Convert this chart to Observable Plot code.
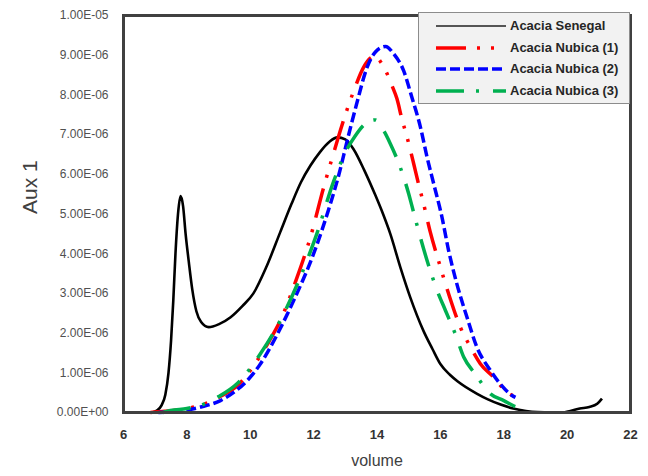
<!DOCTYPE html>
<html>
<head>
<meta charset="utf-8">
<script src="https://cdn.jsdelivr.net/npm/d3@7"></script>
<script src="https://cdn.jsdelivr.net/npm/@observablehq/plot@0.6"></script>
<style>
  html, body { margin: 0; padding: 0; background: #fff; }
  #wrap { position: relative; width: 648px; height: 476px; font-family: "Liberation Sans", Arial, sans-serif; }
  #legend { position: absolute; left: 418px; top: 12px; width: 212px; height: 92px;
            background: #f2f2f2; border: 1px solid #8c8c8c; box-sizing: border-box; }
  .row { position: absolute; left: 0; height: 20px; width: 212px; }
  .row svg { position: absolute; left: 16px; top: 0; }
  .row span { position: absolute; left: 91px; top: 2px; font-size: 13px; font-weight: bold; color: #262626; white-space: nowrap; }
</style>
</head>
<body>
<div id="wrap"></div>
<script>
// ---- data (y values in units of 1e-6) ----
const seriesNames = ["Acacia Senegal", "Acacia Nubica (1)", "Acacia Nubica (2)", "Acacia Nubica (3)"];

const senegal = [[6.9,0],[7.05,0.05],[7.2,0.18],[7.32,0.45],[7.42,1.0],[7.5,1.8],[7.57,2.8],[7.64,4.0],[7.72,5.0],[7.8,5.45],[7.88,5.2],[7.96,4.5],[8.06,3.8],[8.17,3.1],[8.3,2.55],[8.45,2.28],[8.69,2.15],[9.0,2.22],[9.38,2.4],[9.75,2.68],[10.1,3.0],[10.5,3.65],[10.95,4.55],[11.3,5.25],[11.6,5.8],[11.9,6.22],[12.2,6.56],[12.5,6.82],[12.75,6.93],[13.0,6.88],[13.27,6.62],[13.6,6.1],[13.95,5.47],[14.2,4.98],[14.42,4.5],[14.74,3.65],[15.05,2.9],[15.47,2.05],[15.75,1.6],[16.0,1.22],[16.3,0.95],[16.55,0.78],[17.16,0.47],[17.5,0.33],[17.9,0.2],[18.3,0.1],[18.7,0.04],[19.06,0.01],[19.5,0],[19.85,0],[20.1,0.04],[20.4,0.1],[20.7,0.14],[20.95,0.22],[21.1,0.35]];

const nubica1 = [[6.85,0],[7.3,0.03],[8.0,0.1],[8.5,0.2],[9.0,0.38],[9.6,0.68],[10.22,1.31],[10.6,1.8],[10.95,2.32],[11.48,3.41],[11.9,4.42],[12.32,5.68],[12.6,6.45],[12.9,7.25],[13.27,8.11],[13.58,8.7],[13.8,8.93],[13.95,8.98],[14.1,8.85],[14.32,8.53],[14.47,8.24],[14.63,7.9],[14.79,7.38],[14.95,6.93],[15.16,6.26],[15.31,5.76],[15.47,5.26],[15.68,4.55],[15.95,3.8],[16.26,2.99],[16.63,2.15],[16.95,1.65],[17.26,1.23],[17.68,0.89],[18.1,0.51],[18.37,0.4]];

const nubica2 = [[7.1,0],[7.5,0.02],[8.0,0.06],[8.5,0.15],[9.06,0.3],[9.5,0.52],[9.9,0.8],[10.3,1.2],[10.64,1.65],[11.0,2.2],[11.37,2.82],[12.0,4.0],[12.53,5.26],[12.8,6.0],[13.06,6.85],[13.35,7.75],[13.69,8.7],[13.95,9.08],[14.27,9.22],[14.53,9.03],[14.84,8.61],[15.1,7.94],[15.37,7.19],[15.58,6.43],[15.79,5.76],[16.05,4.92],[16.26,4.08],[16.52,3.24],[16.84,2.4],[17.15,1.65],[17.58,1.06],[17.89,0.72],[18.26,0.43],[18.37,0.38]];

const nubica3 = [[7.25,0],[7.48,0.05],[8.0,0.1],[8.5,0.2],[9.0,0.4],[9.59,0.73],[10.32,1.48],[10.95,2.32],[11.58,3.41],[12.1,4.5],[12.64,5.84],[13.0,6.55],[13.3,6.95],[13.6,7.25],[13.95,7.37],[14.21,7.1],[14.42,6.77],[14.63,6.39],[14.84,5.93],[15.0,5.51],[15.1,5.21],[15.31,4.58],[15.58,3.83],[15.9,3.07],[16.16,2.57],[16.47,1.98],[16.74,1.39],[17.1,0.97],[17.58,0.47],[18.0,0.3],[18.42,0.13],[18.6,0.08]];

const xTicks = [6, 8, 10, 12, 14, 16, 18, 20, 22];
const yTicksMicro = [0, 1, 2, 3, 4, 5, 6, 7, 8, 9, 10];
const xLabel = "volume";
const yLabel = "Aux 1";

// ---- styles ----
const styles = [
  {color: "#000000", width: 2.6, dash: null},
  {color: "#ff0000", width: 3.5, dash: "30,11,3,11,3,12"},
  {color: "#0000ff", width: 3.5, dash: "10,4"},
  {color: "#00b050", width: 3.5, dash: "28,12,3,14"}
];

const toRows = (arr, name) => arr.map(([x, v]) => ({x, y: v * 1e-6, name}));
const allSeries = [senegal, nubica1, nubica2, nubica3];

const fmt = v => {
  if (v === 0) return "0.00E+00";
  const e = Math.floor(Math.log10(v) + 1e-9);
  const m = v / Math.pow(10, e);
  return m.toFixed(2) + "E-" + String(-e).padStart(2, "0");
};

const lineMarks = allSeries.map((s, i) => Plot.line(toRows(s, seriesNames[i]), {
  x: "x", y: "y", stroke: styles[i].color, strokeWidth: styles[i].width,
  strokeDasharray: styles[i].dash || undefined, curve: "monotone-x",
  strokeLinecap: "butt", strokeLinejoin: "round"
}));

const chart = Plot.plot({
  width: 648, height: 476,
  marginLeft: 123, marginRight: 18, marginTop: 15, marginBottom: 64,
  style: {fontFamily: "'Liberation Sans', Arial, sans-serif", background: "#fff"},
  x: {domain: [6, 22]},
  y: {domain: [0, 1e-5]},
  marks: [
    ...lineMarks,
    Plot.frame({stroke: "#404040", strokeWidth: 3}),
    Plot.axisX({ticks: xTicks, tickSize: 0, tickPadding: 17, fontSize: 13, fontWeight: "bold", fill: "#333", label: null}),
    Plot.axisY({ticks: yTicksMicro.map(d => d * 1e-6), tickFormat: fmt, tickSize: 0, tickPadding: 15, fontSize: 12, fill: "#505050", label: null}),
    Plot.text([xLabel], {frameAnchor: "bottom", dy: 53, fontSize: 16, fill: "#404040"}),
    Plot.text([yLabel], {frameAnchor: "left", dx: -93, rotate: -90, fontSize: 21, fill: "#404040"})
  ]
});

const wrap = document.getElementById("wrap");
wrap.appendChild(chart);

// ---- legend ----
const legend = document.createElement("div");
legend.id = "legend";
const rowTops = [3, 25, 46, 68];
seriesNames.forEach((name, i) => {
  const row = document.createElement("div");
  row.className = "row";
  row.style.top = rowTops[i] + "px";
  const st = styles[i];
  const sw = i === 0 ? 2 : st.width;
  const col = i === 0 ? "#555" : st.color;
  row.innerHTML = `<svg width="72" height="20"><line x1="1" x2="71" y1="10" y2="10" stroke="${col}" stroke-width="${sw}" ${st.dash ? `stroke-dasharray="${st.dash}"` : ""}/></svg><span>${name}</span>`;
  legend.appendChild(row);
});
wrap.appendChild(legend);
</script>
</body>
</html>
